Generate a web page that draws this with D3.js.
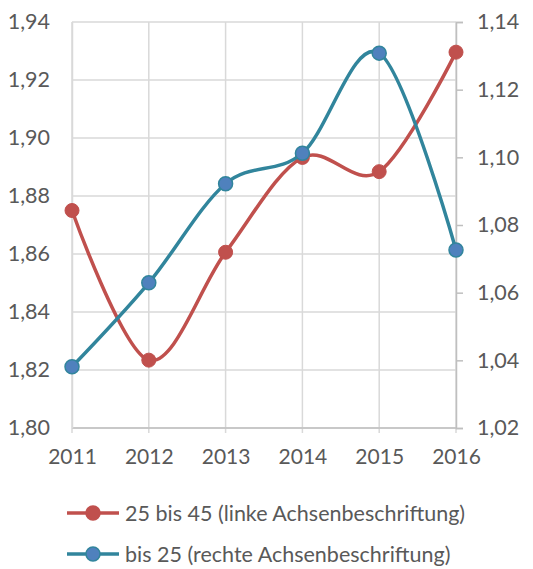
<!DOCTYPE html>
<html>
<head>
<meta charset="utf-8">
<script src="https://cdn.jsdelivr.net/npm/d3@7"></script>
<style>
  body { margin: 0; background: #fff; }
  text { font-family: Lato, "Open Sans", sans-serif; fill: #595959; }
</style>
</head>
<body>
<div class="container"></div>
<script>
const years = ['2011', '2012', '2013', '2014', '2015', '2016'];
const series25to45 = [1.875, 1.8234, 1.8606, 1.8933, 1.8884, 1.9296]; // left axis
const seriesTo25 = [1.0381, 1.0629, 1.0922, 1.1012, 1.1308, 1.0726]; // right axis
const leftTicks = [1.80, 1.82, 1.84, 1.86, 1.88, 1.90, 1.92, 1.94];
const rightTicks = [1.02, 1.04, 1.06, 1.08, 1.10, 1.12, 1.14];
const legendLabels = ['25 bis 45 (linke Achsenbeschriftung)', 'bis 25 (rechte Achsenbeschriftung)'];

const w = 533;
const h = 569;
const margin = { top: 22, right: 77, bottom: 141, left: 72 };

const RED = '#C0504D';
const TEAL = '#31859C';
const BLUE = '#4F81BD';
const fmt = d => d3.format('.2f')(d).replace('.', ',');

const svg = d3.select('.container')
    .append('svg')
    .attr('width', w)
    .attr('height', h)
    .attr('viewBox', [0, 0, w, h]);

const x = d3.scalePoint()
    .domain(years)
    .range([margin.left, w - margin.right]);

const yLeft = d3.scaleLinear()
    .domain([1.80, 1.94])
    .range([h - margin.bottom, margin.top]);

const yRight = d3.scaleLinear()
    .domain([1.02, 1.14])
    .range([h - margin.bottom, margin.top]);

// gridlines
svg.append('g')
    .selectAll('line')
    .data(leftTicks)
    .join('line')
    .attr('x1', margin.left)
    .attr('x2', w - margin.right)
    .attr('y1', d => yLeft(d))
    .attr('y2', d => yLeft(d))
    .attr('stroke', '#d9d9d9')
    .attr('stroke-width', 1.5);

svg.append('g')
    .selectAll('line')
    .data(years)
    .join('line')
    .attr('x1', d => x(d))
    .attr('x2', d => x(d))
    .attr('y1', margin.top)
    .attr('y2', h - margin.bottom + 5)
    .attr('stroke', '#d9d9d9')
    .attr('stroke-width', 1.5);

// bottom axis line
svg.append('line')
    .attr('x1', margin.left)
    .attr('x2', w - margin.right)
    .attr('y1', yLeft(1.80))
    .attr('y2', yLeft(1.80))
    .attr('stroke', '#bfbfbf')
    .attr('stroke-width', 1.5);

// left axis
svg.append('g')
    .attr('transform', `translate(${margin.left},0)`)
    .call(d3.axisLeft(yLeft).tickValues(leftTicks).tickFormat(fmt).tickSize(0).tickPadding(22))
    .call(g => g.select('.domain').attr('stroke', '#d9d9d9').attr('stroke-width', 1.5))
    .call(g => g.selectAll('text').style('font-size', '21.5px').style('font-family', 'Lato, sans-serif').attr('fill', '#595959'));

// right axis
svg.append('g')
    .attr('transform', `translate(${w - margin.right},0)`)
    .call(d3.axisRight(yRight).tickValues(rightTicks).tickFormat(fmt).tickSize(7).tickPadding(14))
    .call(g => g.select('.domain').attr('stroke', '#bfbfbf').attr('stroke-width', 1.5))
    .call(g => g.selectAll('.tick line').attr('stroke', '#bfbfbf').attr('stroke-width', 1.5))
    .call(g => g.selectAll('text').style('font-size', '21.5px').style('font-family', 'Lato, sans-serif').attr('fill', '#595959'));

// x labels
svg.append('g')
    .attr('transform', `translate(0,${h - margin.bottom})`)
    .call(d3.axisBottom(x).tickSize(0).tickPadding(21))
    .call(g => g.select('.domain').remove())
    .call(g => g.selectAll('text').style('font-size', '21px').style('font-family', 'Lato, sans-serif').attr('fill', '#595959'));

const curve = d3.curveCardinal.tension(0);

const lineLeft = d3.line()
    .x((d, i) => x(years[i]))
    .y(d => yLeft(d))
    .curve(curve);

const lineRight = d3.line()
    .x((d, i) => x(years[i]))
    .y(d => yRight(d))
    .curve(curve);

// red series
svg.append('path')
    .datum(series25to45)
    .attr('d', lineLeft)
    .attr('fill', 'none')
    .attr('stroke', RED)
    .attr('stroke-width', 3.5);

svg.append('g')
    .selectAll('circle')
    .data(series25to45)
    .join('circle')
    .attr('cx', (d, i) => x(years[i]))
    .attr('cy', d => yLeft(d))
    .attr('r', 7)
    .attr('fill', RED)
    .attr('stroke', RED)
    .attr('stroke-width', 1);

// teal series
svg.append('path')
    .datum(seriesTo25)
    .attr('d', lineRight)
    .attr('fill', 'none')
    .attr('stroke', TEAL)
    .attr('stroke-width', 3.5);

svg.append('g')
    .selectAll('circle')
    .data(seriesTo25)
    .join('circle')
    .attr('cx', (d, i) => x(years[i]))
    .attr('cy', d => yRight(d))
    .attr('r', 7)
    .attr('fill', BLUE)
    .attr('stroke', TEAL)
    .attr('stroke-width', 1.5);

// legend
const legend = svg.append('g')
    .selectAll('g')
    .data(legendLabels)
    .join('g')
    .attr('transform', (d, i) => `translate(67,${513 + i * 41})`);

legend.append('line')
    .attr('x1', 0)
    .attr('x2', 52)
    .attr('stroke', (d, i) => i === 0 ? RED : TEAL)
    .attr('stroke-width', 3.5);

legend.append('circle')
    .attr('cx', 26)
    .attr('r', 7)
    .attr('fill', (d, i) => i === 0 ? RED : BLUE)
    .attr('stroke', (d, i) => i === 0 ? RED : TEAL)
    .attr('stroke-width', 1.5);

legend.append('text')
    .attr('x', 58)
    .attr('dy', '0.35em')
    .style('font-size', '21.5px')
    .text(d => d);
</script>
</body>
</html>
